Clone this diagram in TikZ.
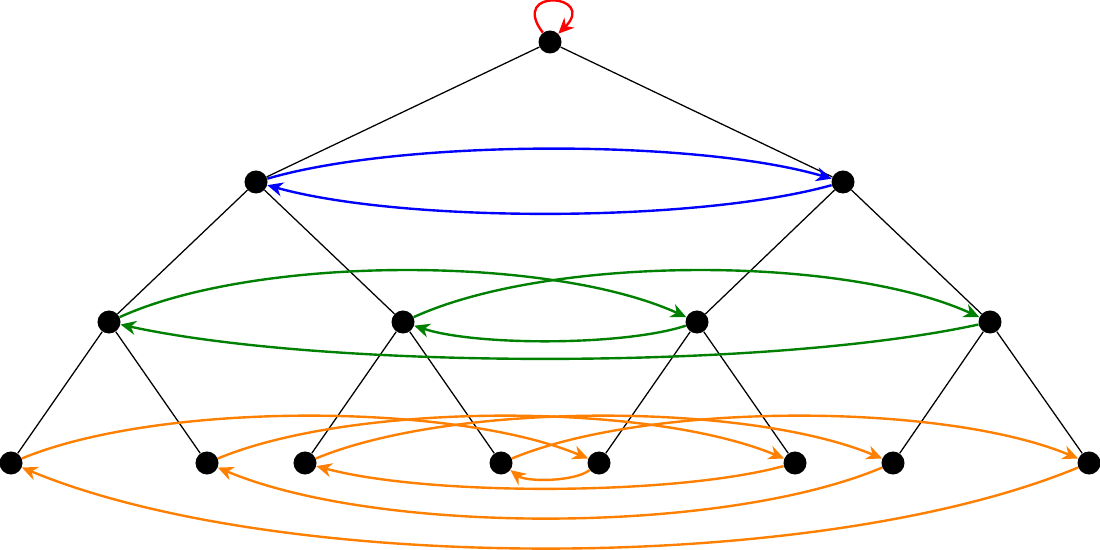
\documentclass[tikz,border=0pt]{standalone}
\usetikzlibrary{arrows.meta}
\definecolor{myblue}{RGB}{0,0,255}
\definecolor{mygreen}{RGB}{0,128,0}
\definecolor{myorange}{RGB}{255,128,0}
\begin{document}
\begin{tikzpicture}[x=0.025cm,y=-0.025cm,
  v/.style={circle,fill=black,inner sep=0pt,minimum size=0.575cm},
  e/.style={black,line width=0.9pt},
  a/.style={line width=1.7pt,-{Stealth[length=11pt,width=10pt,inset=3.5pt]}}]
\useasboundingbox (0,0) rectangle (1100,550);
\node[v] (r) at (550,42) {};
\node[v] (a0) at (256,182) {};
\node[v] (a1) at (843,182) {};
\node[v] (b0) at (109,322) {};
\node[v] (b1) at (403,322) {};
\node[v] (b2) at (697,322) {};
\node[v] (b3) at (990,322) {};
\node[v] (c0) at (11,463) {};
\node[v] (c1) at (207,463) {};
\node[v] (c2) at (305,463) {};
\node[v] (c3) at (501,463) {};
\node[v] (c4) at (599,463) {};
\node[v] (c5) at (795,463) {};
\node[v] (c6) at (893,463) {};
\node[v] (c7) at (1089,463) {};
\draw[e] (r)--(a0) (r)--(a1) (a0)--(b0) (a0)--(b1) (a1)--(b2) (a1)--(b3)
  (b0)--(c0) (b0)--(c1) (b1)--(c2) (b1)--(c3) (b2)--(c4) (b2)--(c5) (b3)--(c6) (b3)--(c7);
\draw[a,red] (r) .. controls +(-42,-55) and +(48,-48) .. (r);
\draw[a,myblue] (a0) .. controls +(147,-43) and +(-147,-43) .. (a1);
\draw[a,myblue] (a1) .. controls +(-147,41) and +(147,41) .. (a0);
\draw[a,mygreen] (b0) .. controls +(147,-67) and +(-147,-67) .. (b2);
\draw[a,mygreen] (b1) .. controls +(147,-67) and +(-147,-67) .. (b3);
\draw[a,mygreen] (b2) .. controls +(-73,24) and +(73,24) .. (b1);
\draw[a,mygreen] (b3) .. controls +(-220,48) and +(220,48) .. (b0);
\draw[a,myorange] (c0) .. controls +(147,-61) and +(-147,-61) .. (c4);
\draw[a,myorange] (c1) .. controls +(147,-61) and +(-147,-61) .. (c5);
\draw[a,myorange] (c2) .. controls +(147,-61) and +(-147,-61) .. (c6);
\draw[a,myorange] (c3) .. controls +(147,-61) and +(-147,-61) .. (c7);
\draw[a,myorange] (c4) .. controls +(-25,19) and +(25,19) .. (c3);
\draw[a,myorange] (c5) .. controls +(-122,33) and +(122,33) .. (c2);
\draw[a,myorange] (c6) .. controls +(-171,72) and +(171,72) .. (c1);
\draw[a,myorange] (c7) .. controls +(-270,112) and +(270,112) .. (c0);
\end{tikzpicture}
\end{document}
